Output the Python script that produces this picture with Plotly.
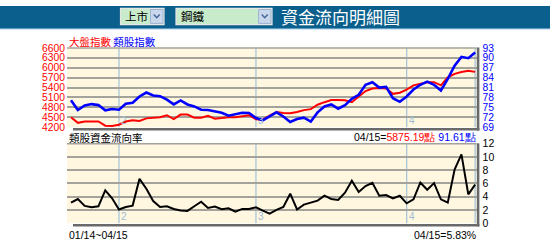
import plotly.graph_objects as go

W, H = 550, 252

# ---------------- data ----------------
dates = ["01/14", "01/15", "01/16", "01/17", "01/19", "01/20", "01/21",
         "02/02", "02/03", "02/04", "02/05", "02/06", "02/09", "02/10", "02/11", "02/12", "02/13",
         "02/16", "02/17", "02/18", "02/19", "02/20", "02/23", "02/24", "02/25", "02/26", "02/27",
         "03/02", "03/03", "03/04", "03/05", "03/06", "03/09", "03/10", "03/11", "03/12", "03/13",
         "03/16", "03/17", "03/18", "03/19", "03/20", "03/23", "03/24", "03/25", "03/26", "03/27",
         "03/30", "03/31",
         "04/01", "04/02", "04/03", "04/06", "04/07", "04/08", "04/09", "04/10", "04/13", "04/14", "04/15"]

market_index = [4505, 4333, 4373, 4373, 4373, 4246, 4237, 4275, 4373, 4410,
                4390, 4468, 4497, 4505, 4563, 4448, 4583, 4583, 4488, 4488,
                4545, 4460, 4478, 4505, 4505, 4525, 4563, 4440, 4430, 4555,
                4660, 4632, 4622, 4660, 4718, 4747, 4880, 4958, 5024, 5024,
                5015, 4958, 5130, 5295, 5370, 5390, 5370, 5210, 5246, 5340,
                5468, 5514, 5563, 5563, 5468, 5707, 5814, 5871, 5909, 5875.19]

sector_index = [77.15, 74.2, 75.6, 76.0, 75.7, 74.1, 74.5, 74.3, 76.1, 76.4,
                78.3, 79.5, 78.6, 78.4, 77.35, 75.9, 77.1, 75.9, 75.3, 74.3,
                74.2, 73.7, 73.4, 72.5, 73.0, 73.4, 73.3, 71.8, 71.1, 72.25,
                73.5, 72.25, 70.6, 71.5, 71.9, 70.7, 73.5, 75.3, 75.9, 74.6,
                75.7, 77.6, 78.8, 81.85, 82.6, 81.0, 81.2, 77.8, 76.7, 78.3,
                80.4, 81.85, 82.8, 81.85, 80.1, 83.6, 87.6, 90.3, 89.9, 91.61]

flow_rate = [3.1, 3.65, 2.6, 2.4, 2.55, 4.95, 3.75, 2.07, 2.45, 2.65,
             6.7, 5.2, 3.35, 2.45, 2.55, 2.15, 1.9, 1.85, 2.55, 3.25,
             2.3, 2.5, 2.1, 2.25, 1.75, 2.15, 2.15, 2.4, 1.9, 1.45,
             2.0, 2.45, 4.45, 2.07, 2.8, 3.1, 3.4, 4.15, 3.65, 3.5,
             4.6, 6.4, 4.7, 5.6, 6.1, 4.15, 4.25, 3.75, 4.15, 3.0,
             3.6, 6.15, 5.05, 6.05, 3.6, 3.1, 8.1, 10.4, 4.35, 5.83]

left_ticks = [4200, 4500, 4800, 5100, 5400, 5700, 6000, 6300, 6600]
right_ticks = [69, 72, 75, 78, 81, 84, 87, 90, 93]
flow_ticks = [0, 2, 4, 6, 8, 10, 12]

market_label = "上市"
sector_label = "鋼鐵"
title_text = "資金流向明細圖"
legend_market = "大盤指數"
legend_sector = "類股指數"
flow_title = "類股資金流向率"

# month boundaries derived from dates
month_starts = [d for i, d in enumerate(dates) if i > 0 and d[:2] != dates[i - 1][:2]]
month_labels = [str(int(d[:2])) for d in month_starts]

# ---------------- helpers ----------------
def px(x):
    return x / W

def py(y):
    return 1 - y / H

NUM_FONT = "Liberation Sans, Arial, sans-serif"
CJK_FONT = "Noto Sans CJK TC, Noto Sans CJK SC, sans-serif"
GRID = "#A4A39B"
MONTH_LINE = "#A8C6D8"
SHADOW = "#6A6A6A"

X0, X1 = 67, 476.6
TOP_Y0, TOP_Y1 = 44, 127.3
BOT_Y0, BOT_Y1 = 144.7, 228
xr = [-0.584, (X1 - 71) / 6.85]

fig = go.Figure()
fig.add_trace(go.Scatter(x=dates, y=market_index, mode="lines",
                         line=dict(color="#FF0000", width=2), xaxis="x", yaxis="y",
                         showlegend=False, hoverinfo="skip"))
fig.add_trace(go.Scatter(x=dates, y=sector_index, mode="lines",
                         line=dict(color="#0000FF", width=2.6), xaxis="x", yaxis="y2",
                         showlegend=False, hoverinfo="skip"))
fig.add_trace(go.Scatter(x=dates, y=flow_rate, mode="lines",
                         line=dict(color="#000000", width=2), xaxis="x2", yaxis="y3",
                         showlegend=False, hoverinfo="skip"))

axis_common = dict(showline=False, zeroline=False, ticks="", fixedrange=True)

fig.update_layout(
    width=W, height=H, margin=dict(l=0, r=0, t=0, b=0),
    paper_bgcolor="white", plot_bgcolor="#FFF7E0",
    xaxis=dict(domain=[px(X0), px(X1)], anchor="y", type="category", range=xr,
               showticklabels=False, showgrid=False, **axis_common),
    yaxis=dict(domain=[py(TOP_Y1), py(TOP_Y0)], anchor="x", range=[4200, 6600],
               tickvals=left_ticks, ticktext=[str(v) for v in left_ticks],
               tickfont=dict(family=NUM_FONT, size=10.3, color="#FF0000"),
               showgrid=True, gridcolor=GRID, gridwidth=1.5, ticklabelstandoff=1,
               **axis_common),
    yaxis2=dict(overlaying="y", side="right", anchor="x", range=[69, 93],
                tickvals=right_ticks, ticktext=[str(v) for v in right_ticks],
                tickfont=dict(family=NUM_FONT, size=10.3, color="#0000FF"),
                showgrid=False, ticklabelstandoff=5, **axis_common),
    xaxis2=dict(domain=[px(X0), px(X1)], anchor="y3", type="category", range=xr,
                showticklabels=False, showgrid=False, **axis_common),
    yaxis3=dict(domain=[py(BOT_Y1), py(BOT_Y0)], anchor="x2", side="right", range=[0, 12],
                tickvals=flow_ticks, ticktext=[str(v) for v in flow_ticks],
                tickfont=dict(family=NUM_FONT, size=10.5, color="#000000"),
                showgrid=True, gridcolor=GRID, gridwidth=1.5, ticklabelstandoff=5,
                **axis_common),
)

shapes = []
annotations = []

# header band
shapes.append(dict(type="rect", xref="paper", yref="paper", x0=0, x1=1, y0=py(23), y1=1,
                   fillcolor="#0B5F8C", line=dict(width=0), layer="above"))
shapes.append(dict(type="rect", xref="paper", yref="paper", x0=0, x1=1, y0=py(24.5), y1=py(23),
                   fillcolor="#5E9DC2", line=dict(width=0), layer="above"))

def select_box(x0, x1, label):
    shapes.append(dict(type="rect", xref="paper", yref="paper", x0=px(x0), x1=px(x1),
                       y0=py(19.5), y1=py(2.5), fillcolor="#C8ECCB",
                       line=dict(color="#E6E6E6", width=1.2), layer="above"))
    bx0, bx1 = x1 - 13.5, x1 - 1
    shapes.append(dict(type="rect", xref="paper", yref="paper", x0=px(bx0), x1=px(bx1),
                       y0=py(18.3), y1=py(3.7), fillcolor="#C9D7EC",
                       line=dict(color="#9FB3D2", width=1), layer="above"))
    cx = (bx0 + bx1) / 2
    shapes.append(dict(type="path", xref="paper", yref="paper",
                       path=f"M {px(cx-3)},{py(9)} L {px(cx)},{py(12.3)} L {px(cx+3)},{py(9)}",
                       line=dict(color="#4A6A9E", width=1.6), layer="above"))
    annotations.append(dict(text=label, xref="paper", yref="paper", x=px(x0 + 2.5), y=py(11),
                            xanchor="left", yanchor="middle", showarrow=False,
                            font=dict(family=CJK_FONT, size=11.5, color="#000000")))

select_box(120.5, 164, market_label)
select_box(176, 272, sector_label)
annotations.append(dict(text=title_text, xref="paper", yref="paper", x=px(279), y=py(11.5),
                        xanchor="left", yanchor="middle", showarrow=False,
                        font=dict(family=CJK_FONT, size=17, color="#FFFFFF")))

# month lines + labels
for xa, ya in (("x", "y"), ("x2", "y3")):
    for d, lab in zip(month_starts, month_labels):
        shapes.append(dict(type="line", xref=xa, yref=f"{ya} domain", x0=d, x1=d, y0=0, y1=1,
                           line=dict(color=MONTH_LINE, width=1.3), layer="below"))
        annotations.append(dict(text=lab, xref=xa, yref=f"{ya} domain", x=d, y=0,
                                xanchor="left", yanchor="bottom", yshift=-1,
                                showarrow=False,
                                font=dict(family=NUM_FONT, size=10, color="#9DBFD6")))
    shapes.append(dict(type="line", xref=xa, yref=f"{ya} domain", x0=dates[-1], x1=dates[-1],
                       y0=0, y1=1, line=dict(color=MONTH_LINE, width=1.3), layer="below"))

# borders / shadows
for ytop, ybot in ((TOP_Y0, TOP_Y1), (BOT_Y0, BOT_Y1)):
    shapes.append(dict(type="line", xref="paper", yref="paper", x0=px(X0), x1=px(X1),
                       y0=py(ytop), y1=py(ytop), line=dict(color=GRID, width=1.5), layer="above"))
    shapes.append(dict(type="rect", xref="paper", yref="paper", x0=px(73), x1=px(479.4),
                       y0=py(ybot + 3.4), y1=py(ybot + 0.9), fillcolor=SHADOW,
                       line=dict(width=0), layer="above"))
    shapes.append(dict(type="rect", xref="paper", yref="paper", x0=px(476.8), x1=px(479.4),
                       y0=py(ybot + 3.4), y1=py(ytop - 0.5), fillcolor=SHADOW,
                       line=dict(width=0), layer="above"))

# legend texts
annotations.append(dict(text=f"<span style='color:#FF0000'>{legend_market}</span> "
                             f"<span style='color:#0000FF'>{legend_sector}</span>",
                        xref="paper", yref="paper", x=px(67), y=py(37), xanchor="left",
                        yanchor="middle", showarrow=False,
                        font=dict(family=CJK_FONT, size=10.5)))
annotations.append(dict(text=flow_title, xref="paper", yref="paper", x=px(67), y=py(138),
                        xanchor="left", yanchor="middle", showarrow=False,
                        font=dict(family=CJK_FONT, size=10.5, color="#000000")))
annotations.append(dict(text=f"{dates[-1]}=<span style='color:#FF0000'>{market_index[-1]:.2f}點</span> "
                             f"<span style='color:#0000FF'>{sector_index[-1]:.2f}點</span>",
                        xref="paper", yref="paper", x=px(477.5), y=py(138), xanchor="right",
                        yanchor="middle", showarrow=False,
                        font=dict(family=NUM_FONT, size=10.5, color="#000000")))
annotations.append(dict(text=f"{dates[0]}~{dates[-1]}", xref="paper", yref="paper",
                        x=px(67), y=py(240), xanchor="left", yanchor="middle", showarrow=False,
                        font=dict(family=NUM_FONT, size=10.5, color="#000000")))
annotations.append(dict(text=f"{dates[-1]}={flow_rate[-1]:.2f}%", xref="paper", yref="paper",
                        x=px(477.5), y=py(240), xanchor="right", yanchor="middle",
                        showarrow=False,
                        font=dict(family=NUM_FONT, size=10.5, color="#000000")))

fig.update_layout(shapes=shapes, annotations=annotations)
fig.write_html("out.html")
